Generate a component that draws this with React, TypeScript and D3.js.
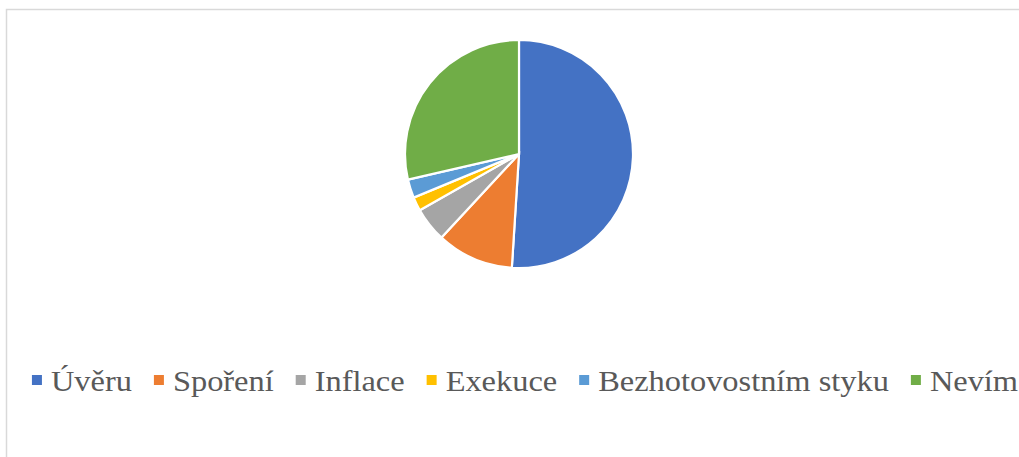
import React, { useEffect, useRef } from "react";
import * as d3 from "d3";

const categories = ["Úvěru", "Spoření", "Inflace", "Exekuce", "Bezhotovostním styku", "Nevím"];
const shares = [51.0, 10.9, 4.9, 1.95, 2.65, 28.6];
const colors = ["#4472C4", "#ED7D31", "#A5A5A5", "#FFC000", "#5B9BD5", "#70AD47"];

export default function App() {
  const ref = useRef<SVGSVGElement>(null);

  useEffect(() => {
    document.body.style.margin = "0";
    const width = 1019;
    const height = 457;
    const cx = 519;
    const cy = 154;
    const radius = 114;

    const svg = d3.select(ref.current);
    svg.selectAll("*").remove();
    svg.attr("width", width).attr("height", height);

    svg.append("rect").attr("width", width).attr("height", height).attr("fill", "#fff");

    // chart frame (cut off at right and bottom)
    svg.append("rect")
      .attr("x", 6.5).attr("y", 9.5)
      .attr("width", 1100).attr("height", 600)
      .attr("fill", "none")
      .attr("stroke", "#d9d9d9")
      .attr("stroke-width", 1.5);

    const data = categories.map((name, i) => ({ name, value: shares[i], color: colors[i] }));
    const pie = d3.pie<any>().sort(null).value(d => d.value);
    const arc = d3.arc<any>().innerRadius(0).outerRadius(radius);

    svg.append("g")
      .attr("transform", `translate(${cx},${cy})`)
      .selectAll("path")
      .data(pie(data))
      .enter()
      .append("path")
      .attr("d", arc)
      .attr("fill", d => d.data.color)
      .attr("stroke", "#fff")
      .attr("stroke-width", 2.2);

    // legend
    const fontSize = 30;
    const stretch = 1.08;
    const box = 10;
    const boxGap = 9;
    const itemGap = 22;
    const baseline = 391;
    const legend = svg.append("g");
    const items = data.map(d => {
      const g = legend.append("g");
      g.append("rect")
        .attr("width", box).attr("height", box)
        .attr("y", baseline - 16)
        .attr("fill", d.color);
      const t = g.append("text")
        .attr("x", 0)
        .attr("y", baseline)
        .attr("font-family", "'Liberation Serif', 'Times New Roman', serif")
        .attr("font-size", fontSize)
        .attr("fill", "#595959")
        .text(d.name);
      const w = (t.node() as SVGTextElement).getComputedTextLength() * stretch;
      return { g, t, w };
    });
    const total = items.reduce((s, it) => s + box + boxGap + it.w, 0) + itemGap * (items.length - 1);
    let x = 525 - total / 2;
    items.forEach(it => {
      it.g.select("rect").attr("x", x);
      const tx = x + box + boxGap;
      it.t.attr("transform", `translate(${tx},0) scale(${stretch},1)`);
      x = tx + it.w + itemGap;
    });
  }, []);

  return <svg ref={ref} style={{ display: "block" }}></svg>;
}
